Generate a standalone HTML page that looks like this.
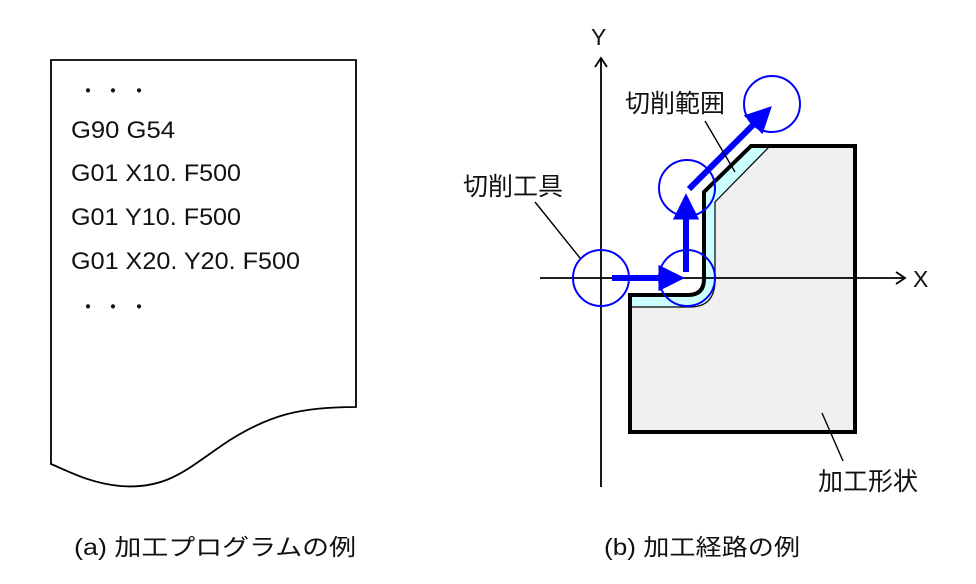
<!DOCTYPE html>
<html><head><meta charset="utf-8"><style>
html,body{margin:0;padding:0;background:#fff;}
svg{display:block;}
text{font-family:"Liberation Sans","Noto Sans CJK JP",sans-serif;fill:#111;}
</style></head><body>
<svg width="976" height="584" viewBox="0 0 976 584" xmlns="http://www.w3.org/2000/svg">
<defs>
<marker id="bh" markerWidth="4.4" markerHeight="4.4" refX="1.6" refY="2.2" orient="auto" markerUnits="strokeWidth">
<path d="M0,0 L4.4,2.2 L0,4.4 Z" fill="#0000ff"/>
</marker>
</defs>
<path d="M51,60 L356,60 L356,407 C300,407 270,415 230,440 C190,466 170,490 120,486 C90,483 70,472 51,464 Z" fill="#fff" stroke="#000" stroke-width="1.8"/>
<g font-size="24">
<text x="78" y="98" font-size="20">・</text><text x="103" y="98" font-size="20">・</text><text x="129" y="98" font-size="20">・</text>
<text x="71" y="138" textLength="104" lengthAdjust="spacingAndGlyphs">G90 G54</text>
<text x="71" y="181" textLength="170" lengthAdjust="spacingAndGlyphs">G01 X10. F500</text>
<text x="71" y="225" textLength="170" lengthAdjust="spacingAndGlyphs">G01 Y10. F500</text>
<text x="71" y="269" textLength="229" lengthAdjust="spacingAndGlyphs">G01 X20. Y20. F500</text>
<text x="78" y="314" font-size="20">・</text><text x="103" y="314" font-size="20">・</text><text x="129" y="314" font-size="20">・</text>
</g>
<text x="74" y="555" font-size="23" textLength="282" lengthAdjust="spacingAndGlyphs">(a) 加工プログラムの例</text>
<text x="604" y="555" font-size="23" textLength="196" lengthAdjust="spacingAndGlyphs">(b) 加工経路の例</text>

<path d="M630,295 L688,295 Q704,295 704,279 L704,192 L751,146 L855,146 L855,432 L630,432 Z" fill="#f0f0f0"/>
<path d="M630,295 L688,295 Q704,295 704,279 L704,192 L751,146 L770,146 L715,202 L715,280 Q715,307 690,307 L630,307 Z" fill="#ccffff" stroke="#000" stroke-width="1.2"/>
<path d="M630,432 L630,295 L688,295 Q704,295 704,279 L704,192 L751,146 L855,146 L855,432 Z" fill="none" stroke="#000" stroke-width="4"/>

<line x1="601" y1="487" x2="601" y2="58" stroke="#000" stroke-width="1.8"/>
<path d="M595,67 L601,58 L607,67" fill="none" stroke="#000" stroke-width="1.8"/>
<line x1="540" y1="278" x2="905" y2="278" stroke="#000" stroke-width="1.8"/>
<path d="M896,272 L905,278 L896,284" fill="none" stroke="#000" stroke-width="1.8"/>
<text x="591" y="45" font-size="23">Y</text>
<text x="913" y="287" font-size="23">X</text>

<g fill="none" stroke="#0000ff" stroke-width="2">
<circle cx="601" cy="278" r="28"/>
<circle cx="687" cy="278" r="28"/>
<circle cx="687" cy="188" r="28"/>
<circle cx="772" cy="104" r="28"/>
</g>
<g stroke="#0000ff" stroke-width="6" fill="none">
<line x1="612" y1="278" x2="668" y2="278" marker-end="url(#bh)"/>
<line x1="686" y1="272" x2="686" y2="210" marker-end="url(#bh)"/>
<line x1="689" y1="189" x2="760" y2="118" marker-end="url(#bh)"/>
</g>

<g stroke="#000" stroke-width="1.4">
<line x1="705" y1="121" x2="735" y2="172"/>
<line x1="535" y1="202" x2="580" y2="258"/>
<line x1="822" y1="413" x2="843" y2="461"/>
</g>
<text x="625" y="112" font-size="25" textLength="100" lengthAdjust="spacingAndGlyphs">切削範囲</text>
<text x="463" y="195" font-size="25" textLength="100" lengthAdjust="spacingAndGlyphs">切削工具</text>
<text x="818" y="490" font-size="25" textLength="100" lengthAdjust="spacingAndGlyphs">加工形状</text>
</svg>
</body></html>
